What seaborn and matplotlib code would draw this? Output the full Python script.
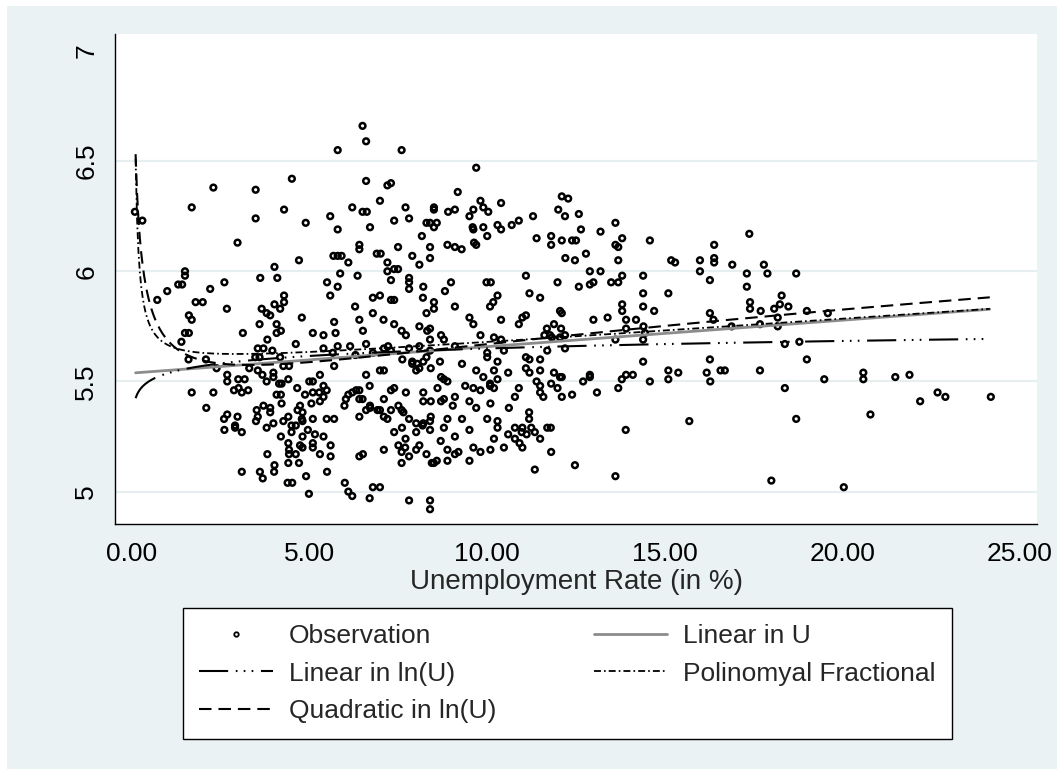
import numpy as np
import pandas as pd
import matplotlib
matplotlib.use("Agg")
import matplotlib.pyplot as plt
from matplotlib.patches import Rectangle
from matplotlib.lines import Line2D
import seaborn as sns

# Observations: unemployment rate (%) and log wage
obs_pairs = [
    (5.79,6.55),(0.08,6.27),(0.29,6.23),(2.29,6.38),(1.68,6.29),(3.48,6.37),(4.50,6.42),(3.48,6.24),(4.28,6.28),(4.89,6.22),
    (5.58,6.25),(5.79,6.19),(2.97,6.13),(4.70,6.05),(5.67,6.07),(5.79,6.07),(1.49,6.00),(1.49,5.98),(4.01,6.02),(3.61,5.97),
    (4.09,5.97),(2.60,5.95),(2.20,5.92),(1.30,5.94),(1.41,5.94),(0.99,5.91),(0.71,5.87),(1.79,5.86),(1.99,5.86),(2.67,5.83),
    (5.49,5.95),(5.58,5.89),(5.79,5.93),(5.86,5.99),(4.28,5.89),(4.28,5.86),(4.01,5.85),(4.17,5.83),(3.65,5.83),(3.79,5.81),
    (3.89,5.80),(1.60,5.80),(1.68,5.78),(4.78,5.79),
    (3.59,5.76),(4.07,5.76),(4.19,5.73),(4.07,5.72),(3.12,5.72),(5.69,5.77),(5.09,5.72),(5.39,5.71),(5.73,5.72),(1.60,5.72),
    (1.49,5.72),(1.39,5.68),(3.81,5.69),(4.61,5.67),(3.54,5.65),(3.70,5.65),(3.95,5.64),(5.39,5.65),(5.65,5.63),(5.79,5.66),
    (3.47,5.61),(3.59,5.61),(4.17,5.61),(1.59,5.60),(2.08,5.60),(2.38,5.56),(3.30,5.56),(3.54,5.55),(2.68,5.53),(2.68,5.50),
    (2.99,5.51),(3.17,5.51),(3.67,5.53),(3.79,5.50),(3.98,5.54),(3.98,5.52),(4.14,5.49),(4.21,5.49),(4.40,5.51),(4.26,5.57),
    (4.42,5.57),(5.29,5.53),(5.69,5.57),(4.99,5.50),(5.09,5.50),(4.65,5.47),(5.39,5.48),(3.00,5.47),(2.87,5.46),(3.09,5.45),
    (3.27,5.46),(1.68,5.45),(2.29,5.45),(4.07,5.44),(4.19,5.44),(4.87,5.44),(5.09,5.45),(5.27,5.45),(5.48,5.46),(5.39,5.43),
    (5.29,5.41),(4.21,5.40),(5.05,5.40),(2.09,5.38),(3.70,5.39),(3.89,5.38),(3.89,5.36),(3.51,5.37),(4.73,5.39),(4.66,5.37),
    (4.80,5.36),(2.68,5.35),(2.59,5.33),(2.97,5.34),(2.90,5.30),(2.90,5.29),(2.60,5.28),(3.09,5.27),(3.49,5.32),(3.54,5.34),
    (3.79,5.29),(3.98,5.31),(4.26,5.32),(4.40,5.34),(4.49,5.30),(4.61,5.30),(4.80,5.32),(4.78,5.33),(5.09,5.33),(5.48,5.33),
    (5.69,5.33),(4.19,5.25),(4.49,5.27),(4.80,5.25),(4.95,5.28),(5.15,5.26),(5.39,5.25),(4.40,5.22),(4.42,5.19),(4.42,5.17),
    (4.61,5.17),(4.73,5.21),(4.80,5.20),(5.09,5.22),(5.09,5.20),(5.59,5.21),(5.29,5.17),(5.59,5.16),(3.81,5.17),(4.40,5.13),
    (4.70,5.13),(4.01,5.12),(4.00,5.09),(5.49,5.09),(3.09,5.09),(3.60,5.09),(3.68,5.06),(4.90,5.07),(4.38,5.04),(4.51,5.04),
    (4.98,4.99),
    (6.49,6.66),(6.59,6.59),(7.59,6.55),(9.69,6.47),(6.59,6.41),(7.19,6.39),(7.29,6.40),(9.17,6.36),(6.98,6.32),(6.20,6.29),
    (6.49,6.27),(6.61,6.27),(7.70,6.29),(7.80,6.24),(7.38,6.23),(8.50,6.29),(8.50,6.28),(8.39,6.22),(8.29,6.22),(8.58,6.22),
    (8.50,6.20),(8.90,6.27),(9.09,6.28),(9.50,6.25),(9.61,6.28),(9.81,6.32),(9.89,6.29),(10.03,6.27),(10.39,6.31),(9.59,6.20),
    (9.61,6.19),(9.89,6.20),(10.29,6.21),(10.39,6.19),(10.69,6.21),(10.89,6.23),(11.29,6.25),(11.39,6.15),(11.80,6.16),(11.80,6.12),
    (6.70,6.20),(8.16,6.16),(8.88,6.12),(9.09,6.11),(9.28,6.10),(9.63,6.13),(9.69,6.12),(10.00,6.16),(6.40,6.12),(6.40,6.10),
    (5.90,6.07),(6.09,6.04),(6.89,6.08),(7.00,6.08),(7.49,6.11),(7.89,6.07),(8.09,6.03),(8.39,6.11),(8.39,6.06),(7.19,6.04),
    (7.19,6.00),(7.38,6.01),(7.49,6.01),(7.29,5.96),(6.35,5.98),(7.80,5.97),(7.80,5.95),(7.80,5.92),(8.20,5.93),(8.19,5.88),
    (8.50,5.86),(8.50,5.83),(8.29,5.81),(8.81,5.91),(8.98,5.95),(9.09,5.84),(9.98,5.95),(10.10,5.95),(10.29,5.89),(10.17,5.86),
    (10.08,5.84),(11.09,5.98),(11.19,5.90),(11.49,5.88),(11.98,5.95),(6.78,5.88),(6.98,5.89),(7.29,5.87),(7.38,5.87),(6.28,5.84),
    (6.78,5.81),(7.08,5.78),(6.40,5.78),(9.50,5.79),(10.39,5.78),(10.99,5.79),(11.09,5.80),(12.05,5.82),
    (12.10,6.34),(12.28,6.33),(12.00,6.28),(12.19,6.25),(12.58,6.26),(12.64,6.19),(12.10,6.14),(12.39,6.14),(12.50,6.14),(12.20,6.06),
    (12.47,6.05),(12.78,6.08),(13.19,6.18),(13.61,6.22),(13.80,6.15),(13.61,6.12),(13.69,6.11),(13.69,6.05),(14.58,6.14),(12.89,6.00),
    (13.19,6.00),(13.80,5.98),(14.39,5.98),(15.18,6.05),(15.29,6.04),(15.99,6.05),(15.99,6.00),(16.39,6.12),(16.39,6.06),(16.39,6.04),
    (16.27,5.96),(16.90,6.03),(17.38,6.17),(17.79,6.03),(17.89,5.99),(17.31,5.99),(17.31,5.93),(12.58,5.93),(12.89,5.94),(12.99,5.95),
    (13.49,5.95),(13.69,5.95),(14.39,5.90),(15.10,5.90),(13.80,5.85),(13.80,5.82),(14.39,5.84),(14.70,5.82),(12.10,5.81),(12.99,5.78),
    (13.39,5.79),(13.91,5.78),(14.19,5.78),(16.27,5.81),(16.37,5.78),(17.40,5.86),(17.40,5.83),(17.70,5.82),(18.08,5.83),(18.18,5.79),
    (18.70,5.99),(18.29,5.89),(18.24,5.85),(18.48,5.84),(19.00,5.82),(19.59,5.81),
    (6.50,5.73),(7.38,5.76),(7.59,5.73),(7.71,5.71),(8.09,5.75),(8.39,5.74),(8.31,5.73),(8.39,5.69),(8.70,5.71),(8.78,5.69),
    (9.61,5.76),(9.81,5.71),(10.19,5.70),(10.39,5.69),(10.89,5.76),(11.61,5.71),(11.77,5.71),(11.88,5.76),(11.68,5.74),(12.05,5.70),
    (6.59,5.67),(6.14,5.66),(6.78,5.63),(6.29,5.62),(7.09,5.65),(7.21,5.66),(7.29,5.64),(7.80,5.65),(8.09,5.66),(8.39,5.64),
    (6.59,5.53),(6.98,5.55),(7.09,5.55),(7.61,5.60),(7.89,5.59),(7.89,5.58),(8.03,5.58),(8.00,5.55),(8.09,5.56),(8.20,5.59),
    (8.29,5.61),(8.41,5.56),(8.67,5.59),(9.09,5.66),(9.29,5.58),(10.00,5.63),(10.00,5.61),(9.69,5.55),(9.89,5.52),(10.19,5.55),
    (10.29,5.59),(10.47,5.64),(10.59,5.54),(10.29,5.51),(11.09,5.61),(11.19,5.60),(11.09,5.56),(11.19,5.54),(11.49,5.55),(11.49,5.60),
    (11.69,5.64),(11.88,5.54),(12.05,5.52),(11.80,5.49),(11.98,5.47),(11.39,5.50),(11.49,5.48),(11.49,5.45),(11.58,5.43),(10.89,5.47),
    (10.78,5.43),(10.61,5.38),(10.08,5.48),(10.19,5.47),(10.08,5.49),(10.09,5.40),
    (6.69,5.48),(6.09,5.44),(6.02,5.42),(5.98,5.39),(6.20,5.45),(6.31,5.46),(6.40,5.46),(6.40,5.42),(6.49,5.42),(6.59,5.37),
    (6.70,5.39),(6.70,5.38),(6.40,5.34),(6.91,5.37),(6.98,5.37),(7.09,5.42),(7.09,5.34),(7.19,5.33),(7.29,5.46),(7.38,5.47),
    (7.29,5.37),(7.50,5.39),(7.59,5.37),(7.64,5.36),(7.71,5.45),(7.80,5.33),(8.00,5.31),(8.20,5.45),(8.20,5.41),(8.41,5.41),
    (8.60,5.47),(8.70,5.41),(8.78,5.42),(8.70,5.52),(8.78,5.51),(8.88,5.50),(9.03,5.39),(9.09,5.43),(8.41,5.34),(8.39,5.32),
    (8.39,5.28),(8.20,5.31),(8.18,5.30),(8.00,5.27),(8.88,5.33),(8.78,5.29),(8.69,5.23),(9.38,5.48),(9.61,5.47),(9.81,5.46),
    (9.50,5.41),(9.69,5.38),(9.29,5.33),(9.50,5.28),(10.00,5.33),(10.29,5.32),(10.29,5.29),(10.19,5.24),(10.59,5.26),(10.78,5.29),
    (10.78,5.24),(10.99,5.29),(10.97,5.27),(11.11,5.26),(11.18,5.36),(11.18,5.33),(11.24,5.29),(11.34,5.27),(11.49,5.24),(11.69,5.29),
    (11.79,5.29),(11.80,5.18),(11.34,5.10),(9.09,5.25),(9.61,5.20),(9.81,5.18),(10.09,5.19),(10.47,5.20),(10.99,5.20),(10.91,5.22),
    (9.50,5.14),(7.38,5.27),(7.60,5.29),(7.70,5.24),(7.50,5.21),(7.59,5.18),(7.69,5.20),(7.80,5.16),(7.59,5.13),(8.00,5.19),
    (8.09,5.21),(8.29,5.17),(8.44,5.13),(8.50,5.13),(8.58,5.14),(8.88,5.14),(8.88,5.19),(9.09,5.17),(9.19,5.18),(7.09,5.19),
    (6.40,5.16),(6.50,5.17),(5.99,5.04),(6.09,5.00),(6.20,4.98),(6.78,5.02),(6.98,5.02),(6.69,4.97),(7.80,4.96),(8.39,4.96),
    (8.39,4.92),
    (12.08,5.74),(12.19,5.71),(11.82,5.70),(13.91,5.74),(14.40,5.75),(14.44,5.72),(16.88,5.75),(17.68,5.76),(18.18,5.75),(13.61,5.69),
    (14.39,5.69),(12.19,5.65),(14.39,5.59),(16.27,5.60),(15.10,5.55),(15.38,5.54),(16.18,5.54),(16.57,5.55),(16.69,5.55),(17.68,5.55),
    (15.10,5.51),(16.28,5.50),(12.10,5.52),(12.10,5.43),(12.39,5.44),(12.70,5.50),(12.89,5.53),(12.89,5.52),(13.09,5.45),(13.69,5.47),
    (13.79,5.51),(13.91,5.53),(14.10,5.53),(14.58,5.50),(13.90,5.28),(15.69,5.32),(12.47,5.12),(13.61,5.07),(18.00,5.05),
    (18.38,5.67),(18.79,5.68),(19.00,5.60),(18.38,5.47),(18.70,5.33),(19.49,5.51),(20.59,5.54),(20.59,5.51),(20.79,5.35),(21.49,5.52),
    (21.89,5.53),(22.19,5.41),(22.68,5.45),(22.90,5.43),(24.18,5.43),(20.04,5.02),
]
unemp = [p[0] for p in obs_pairs]
log_wage = [p[1] for p in obs_pairs]

# Fitted model coefficients
lin_u_coef = [5.538, 0.0120]              # a + b*U
lin_lnu_coef = [5.537, 0.049]             # a + b*ln(U)
quad_lnu_coef = [5.687, -0.1872, 0.078]   # a + b*ln(U) + c*ln(U)^2
fracpoly_coef = [5.560, 0.0110, 0.095]    # a + b*U + c/U

series_names = ["Observation", "Linear in U", "Linear in ln(U)",
                "Polinomyal Fractional", "Quadratic in ln(U)"]

x_ticks = [0, 5, 10, 15, 20, 25]
x_tick_labels = ["0.00", "5.00", "10.00", "15.00", "20.00", "25.00"]
y_ticks = [5, 5.5, 6, 6.5, 7]
y_tick_labels = ["5", "5.5", "6", "6.5", "7"]
grid_levels = [5, 5.5, 6, 6.5]

sns.set_style("white")
plt.rcParams["font.family"] = ["Liberation Sans", "DejaVu Sans"]
plt.rcParams["lines.scale_dashes"] = False

BG = "#EAF2F3"
fig = plt.figure(figsize=(10.57, 7.69), dpi=100, facecolor=BG)
fig.patches.append(Rectangle((0, 1 - 6 / 769), 1, 6 / 769, transform=fig.transFigure,
                             facecolor="white", edgecolor="none", zorder=0))
fig.patches.append(Rectangle((0, 0), 7 / 1057, 1, transform=fig.transFigure,
                             facecolor="white", edgecolor="none", zorder=0))

ax = fig.add_axes([115 / 1057, 1 - 524 / 769, 922 / 1057, 490 / 769])
ax.set_facecolor("white")

for g in grid_levels:
    ax.axhline(g, color="#E6EEF0", lw=1.6, zorder=0)

obs = pd.DataFrame({"U": unemp, "lw": log_wage})
sns.scatterplot(data=obs, x="U", y="lw", ax=ax, marker="o", s=17, color="black",
                facecolors="none", edgecolor="black", linewidth=1.8, zorder=3, legend=False)

u = np.linspace(min(unemp) + 0.02, max(unemp) - 0.03, 600)
lnu = np.log(u)
curves = pd.DataFrame({
    "U": u,
    "Linear in U": lin_u_coef[0] + lin_u_coef[1] * u,
    "Linear in ln(U)": lin_lnu_coef[0] + lin_lnu_coef[1] * lnu,
    "Polinomyal Fractional": fracpoly_coef[0] + fracpoly_coef[1] * u + fracpoly_coef[2] / u,
    "Quadratic in ln(U)": quad_lnu_coef[0] + quad_lnu_coef[1] * lnu + quad_lnu_coef[2] * lnu ** 2,
})

styles = {
    "Linear in U": dict(color="#8C8C8C", linewidth=2.0, linestyle="-"),
    "Linear in ln(U)": dict(color="black", linewidth=1.5, linestyle=(0, (21, 5.5, 1.2, 4.5, 1.2, 4.5, 1.2, 5.5))),
    "Polinomyal Fractional": dict(color="black", linewidth=1.3, linestyle=(0, (5, 2.2, 1.2, 2.2))),
    "Quadratic in ln(U)": dict(color="black", linewidth=1.5, linestyle=(0, (9, 5))),
}
for name in ["Linear in U", "Linear in ln(U)", "Polinomyal Fractional", "Quadratic in ln(U)"]:
    sns.lineplot(data=curves, x="U", y=name, ax=ax, zorder=4, sort=False,
                 estimator=None, **styles[name])

ax.set_xlim(-0.48, 25.48)
ax.set_ylim(4.853, 7.077)
ax.set_xticks(x_ticks)
ax.set_xticklabels(x_tick_labels)
ax.set_yticks(y_ticks)
ax.set_yticklabels(y_tick_labels, rotation=90, va="center")
ax.tick_params(axis="both", direction="out", length=8, width=1, color="black",
               labelsize=19, labelcolor="black")
ax.tick_params(axis="x", pad=5)
ax.tick_params(axis="y", pad=4)
ax.set_xlabel("Unemployment Rate (in %)", fontsize=20, labelpad=2)
ax.set_ylabel("")

for side in ["top", "right"]:
    ax.spines[side].set_visible(False)
for side in ["left", "bottom"]:
    ax.spines[side].set_color("black")
    ax.spines[side].set_linewidth(1.0)

h_obs = Line2D([], [], ls="none", marker="o", ms=3.2, mfc="none", mec="black", mew=1.3)
h = {name: Line2D([], [], **styles[name]) for name in styles}
handles = [h_obs, h["Linear in ln(U)"], h["Quadratic in ln(U)"], h["Linear in U"], h["Polinomyal Fractional"]]
labels = [series_names[0], series_names[2], series_names[4], series_names[1], series_names[3]]
leg = fig.legend(handles, labels, ncol=2, loc="upper left",
                 bbox_to_anchor=(183 / 1057, 1 - 608 / 769), bbox_transform=fig.transFigure,
                 fontsize=19, frameon=True, fancybox=False, shadow=False, framealpha=1,
                 edgecolor="black", facecolor="white", borderpad=0.6, labelspacing=0.52,
                 handlelength=2.8, handletextpad=0.6, columnspacing=3.7, borderaxespad=0)
leg.get_frame().set_linewidth(1.0)

fig.savefig("out.png", dpi=100, facecolor=BG)
